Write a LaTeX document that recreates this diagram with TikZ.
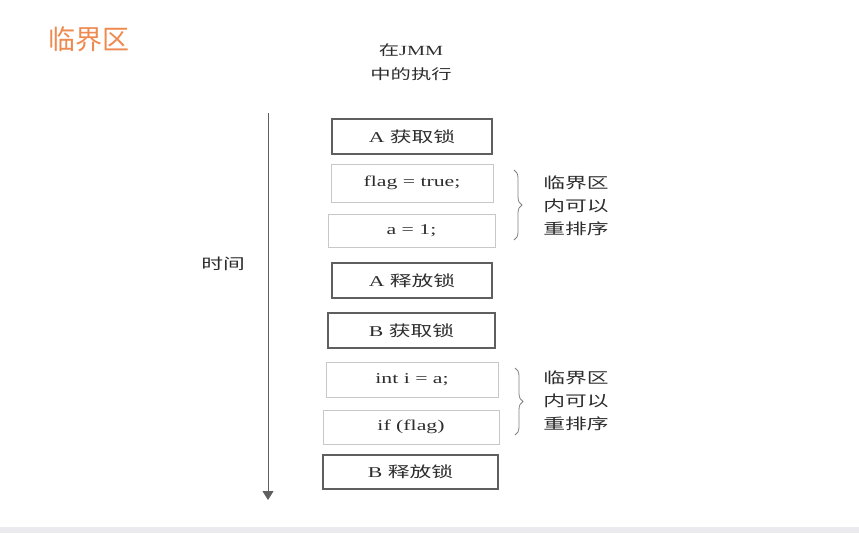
\documentclass[tikz,border=0pt]{standalone}
\usepackage{fontspec}
\setmainfont[FakeStretch=1.45]{Liberation Serif}
\newfontfamily\cjk[FakeStretch=1.45]{Noto Sans CJK SC}
\newfontfamily\titlefont{Noto Sans CJK SC}
\usetikzlibrary{arrows.meta,decorations.pathreplacing}

\definecolor{titleorange}{RGB}{238,138,80}
\definecolor{lockgray}{RGB}{95,95,95}
\definecolor{codegray}{RGB}{200,200,200}
\definecolor{textgray}{RGB}{45,45,45}
\definecolor{bargray}{RGB}{235,235,239}

\tikzset{
  lockbox/.style={draw=lockgray, line width=1.2pt, inner sep=0pt, text=textgray,
    font=\fontsize{15}{17}\selectfont},
  codebox/.style={draw=codegray, line width=1pt, inner sep=0pt, text=textgray,
    font=\fontsize{15}{17}\selectfont},
  reorderbrace/.style={draw=gray, line width=0.8pt, decorate,
    decoration={brace, amplitude=8pt}},
  reordernote/.style={align=center, text=textgray,
    font=\cjk\fontsize{15}{23}\selectfont},
}

\begin{document}
\begin{tikzpicture}[x=1pt,y=-1pt]
  \useasboundingbox (0,0) rectangle (859,533);
  \fill[bargray] (0,527) rectangle (859,533);

  % title
  \node[text=titleorange, font=\titlefont\fontsize{27}{30}\selectfont] (title) at (89,39) {临界区};
  \node[align=center, text=textgray, font=\fontsize{14}{24}\selectfont] (jmm) at (411,62) {{\cjk 在}JMM\\{\cjk 中的执行}};

  % time axis
  \coordinate (tstart) at (268,113);
  \coordinate (tend) at (268,500);
  \draw[lockgray, line width=1pt, -{Triangle[width=11pt,length=9pt]}] (tstart) -- (tend);
  \node[text=textgray, font=\cjk\fontsize{15}{17}\selectfont] (time) at (223,264) {时间};

  % thread A
  \node[lockbox, minimum width=160pt, minimum height=35pt] (alock) at (412,136.5) {A {\cjk 获取锁}};
  \node[codebox, minimum width=162pt, minimum height=38pt] (flag) at (412,183) {flag = true;};
  \node[codebox, minimum width=167pt, minimum height=33pt] (aset) at (411.5,230.5) {a = 1;};
  \node[lockbox, minimum width=160pt, minimum height=35pt] (aunlock) at (412,280.5) {A {\cjk 释放锁}};

  % thread B
  \node[lockbox, minimum width=167pt, minimum height=35pt] (block) at (411.5,330.5) {B {\cjk 获取锁}};
  \node[codebox, minimum width=172pt, minimum height=35pt] (iget) at (412,379.5) {int i = a;};
  \node[codebox, minimum width=176pt, minimum height=34pt] (iftest) at (411,427) {if (flag)};
  \node[lockbox, minimum width=175pt, minimum height=34pt] (bunlock) at (410.5,472) {B {\cjk 释放锁}};

  % braces
  \coordinate (bra) at (514,170);
  \coordinate (brb) at (514,240);
  \draw[reorderbrace] (bra) -- (brb);
  \node[reordernote] (crita) at (576,206) {临界区\\内可以\\重排序};

  \coordinate (brc) at (515,368);
  \coordinate (brd) at (515,435);
  \draw[reorderbrace] (brc) -- (brd);
  \node[reordernote] (critb) at (576,401) {临界区\\内可以\\重排序};
\end{tikzpicture}
\end{document}
